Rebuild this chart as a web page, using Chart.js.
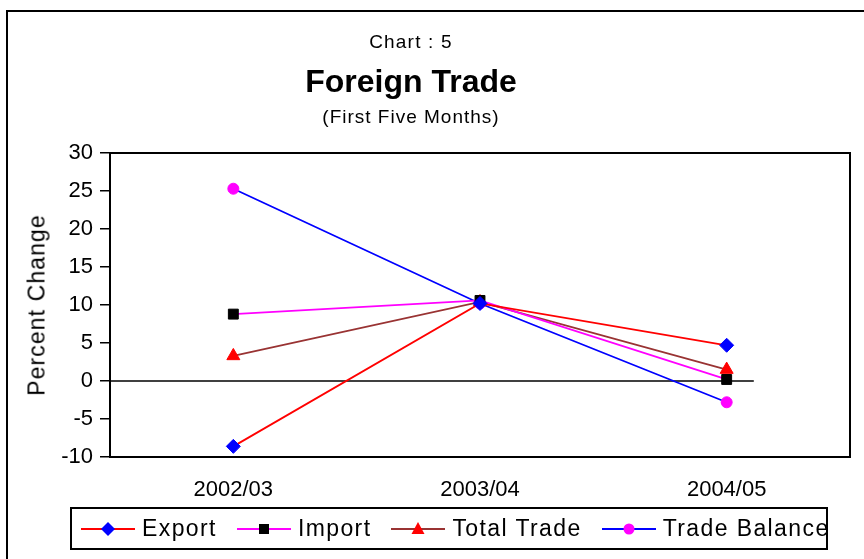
<!DOCTYPE html>
<html>
<head>
<meta charset="utf-8">
<script src="https://cdn.jsdelivr.net/npm/chart.js@4.4.1/dist/chart.umd.min.js"></script>
<style>
  html, body { margin: 0; padding: 0; background: #fff; }
  body { width: 864px; height: 559px; overflow: hidden; position: relative; font-family: Arial, "Liberation Sans", sans-serif; color: #000; }
  #frame { position: absolute; left: 6px; top: 10px; width: 900px; height: 600px; border: 2px solid #000; }
  #chart { position: absolute; left: 0; top: 0; }
  .ttl { position: absolute; left: 211px; width: 400px; text-align: center; white-space: pre; }
  #t1 { top: 31px; font-size: 19px; letter-spacing: 1.2px; }
  #t2 { top: 63px; font-size: 32px; font-weight: bold; }
  #t3 { top: 106px; font-size: 19px; letter-spacing: 1px; }
  #ytitle { position: absolute; left: 37px; top: 305px; transform: translate(-50%, -50%) rotate(-90deg); font-size: 23px; letter-spacing: 1.1px; white-space: nowrap; }
  #legend { position: absolute; left: 70px; top: 507px; width: 745px; height: 39px; border: 2px solid #000; display: flex; align-items: center; padding-left: 9px; box-sizing: content-box; }
  .item { display: flex; align-items: center; margin-right: 20px; font-size: 23px; letter-spacing: 1.4px; white-space: nowrap; }
  .item svg { margin-right: 7px; }
</style>
</head>
<body>
<div id="frame"></div>
<canvas id="chart" width="864" height="559"></canvas>
<div class="ttl" id="t1">Chart : 5</div>
<div class="ttl" id="t2">Foreign Trade</div>
<div class="ttl" id="t3">(First Five Months)</div>
<div id="ytitle">Percent Change</div>
<div id="legend"></div>
<script>
// Data
const years = ['2002/03', '2003/04', '2004/05'];
const exportChange = [-8.6, 10.2, 4.7];
const importChange = [8.8, 10.6, 0.2];
const totalTrade = [3.3, 10.4, 1.5];
const tradeBalance = [25.3, 10.2, -2.8];
const yTicks = [-10, -5, 0, 5, 10, 15, 20, 25, 30];

const series = [
  { label: 'Export', data: exportChange, line: '#ff0000', marker: '#0000ff', shape: 'rectRot', radius: 7 },
  { label: 'Import', data: importChange, line: '#ff00ff', marker: '#000000', shape: 'rect', radius: 7 },
  { label: 'Total Trade', data: totalTrade, line: '#993333', marker: '#ff0000', shape: 'triangle', radius: 7.5 },
  { label: 'Trade Balance', data: tradeBalance, line: '#0000ff', marker: '#ff00ff', shape: 'circle', radius: 5.5 }
];

// Plot box + zero line
const boxPlugin = {
  id: 'box',
  beforeDatasetsDraw(chart) {
    const { ctx, chartArea: a, scales: { y } } = chart;
    const y0 = y.getPixelForValue(0);
    ctx.save();
    ctx.strokeStyle = '#000';
    ctx.lineWidth = 1.5;
    ctx.beginPath();
    ctx.moveTo(a.left, y0);
    ctx.lineTo(a.left + (a.right - a.left) * 0.87, y0);
    ctx.stroke();
    ctx.restore();
  },
  afterDraw(chart) {
    const { ctx, chartArea: a } = chart;
    ctx.save();
    ctx.strokeStyle = '#000';
    ctx.lineWidth = 2;
    ctx.strokeRect(a.left, a.top, a.right - a.left, a.bottom - a.top);
    ctx.restore();
  }
};

const tickFont = { family: 'Arial, "Liberation Sans", sans-serif', size: 22 };

new Chart(document.getElementById('chart'), {
  type: 'line',
  data: {
    labels: years,
    datasets: series.map(s => ({
      label: s.label,
      data: s.data,
      borderColor: s.line,
      borderWidth: 1.8,
      pointStyle: s.shape,
      pointRadius: s.radius,
      pointBackgroundColor: s.marker,
      pointBorderColor: s.marker,
      pointBorderWidth: 1,
      tension: 0
    }))
  },
  options: {
    responsive: false,
    animation: false,
    devicePixelRatio: 1,
    events: [],
    layout: { padding: { left: 0, top: 153, right: 14, bottom: 0 } },
    plugins: { legend: { display: false }, title: { display: false }, tooltip: { enabled: false } },
    scales: {
      x: {
        offset: true,
        grid: { display: false },
        border: { color: '#000', width: 2 },
        ticks: { font: tickFont, color: '#000', padding: 12, maxRotation: 0 },
        afterFit(scale) { scale.height = 102; }
      },
      y: {
        min: -10,
        max: 30,
        afterBuildTicks(scale) { scale.ticks = yTicks.map(v => ({ value: v })); },
        grid: { drawOnChartArea: false, drawTicks: true, tickLength: 10, color: '#000', lineWidth: 1.5 },
        border: { color: '#000', width: 2 },
        ticks: { font: tickFont, color: '#000', padding: 7 },
        afterFit(scale) { scale.width = 110; }
      }
    }
  },
  plugins: [boxPlugin]
});

// Legend: line sample with marker, built from the series list
function markerSvg(s) {
  const cx = 27, cy = 10;
  let m = '';
  if (s.shape === 'rectRot') m = `<polygon points="${cx},${cy - 7} ${cx + 7},${cy} ${cx},${cy + 7} ${cx - 7},${cy}" fill="${s.marker}"/>`;
  if (s.shape === 'rect') m = `<rect x="${cx - 5}" y="${cy - 5}" width="10" height="10" fill="${s.marker}"/>`;
  if (s.shape === 'triangle') m = `<polygon points="${cx},${cy - 7} ${cx + 6.5},${cy + 5} ${cx - 6.5},${cy + 5}" fill="${s.marker}"/>`;
  if (s.shape === 'circle') m = `<circle cx="${cx}" cy="${cy}" r="5.5" fill="${s.marker}"/>`;
  return `<svg width="54" height="20"><line x1="0" y1="${cy}" x2="54" y2="${cy}" stroke="${s.line}" stroke-width="1.8"/>${m}</svg>`;
}
const legend = document.getElementById('legend');
series.forEach(s => {
  const item = document.createElement('div');
  item.className = 'item';
  item.innerHTML = markerSvg(s) + `<span>${s.label}</span>`;
  legend.appendChild(item);
});
</script>
</body>
</html>
